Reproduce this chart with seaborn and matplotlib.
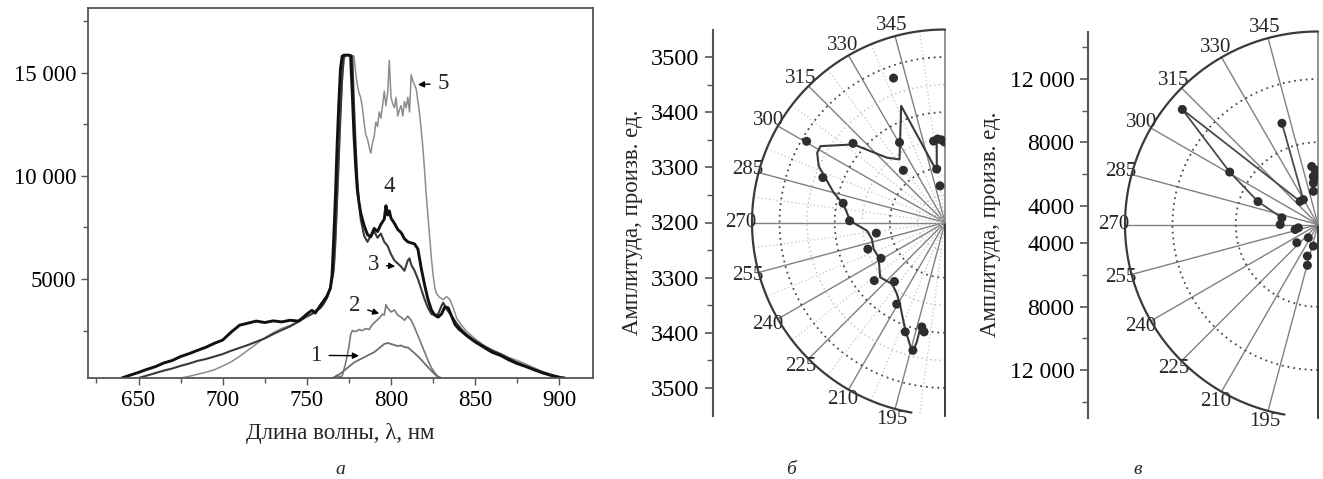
import numpy as np
import matplotlib
matplotlib.use("Agg")
import matplotlib.pyplot as plt
import seaborn as sns
from matplotlib.ticker import FixedLocator, FuncFormatter, MultipleLocator

# ---------------- spectra (wavelength nm, intensity a.u.) ----------------
spec1 = [(765, 200), (768, 300), (770, 420), (772, 550), (775, 750), (778, 950), (781, 1080),
         (784, 1200), (787, 1330), (790, 1450), (793, 1650), (796, 1850), (798, 1900), (800, 1850),
         (802, 1800), (804, 1750), (806, 1780), (808, 1700), (810, 1680), (812, 1550), (814, 1400),
         (816, 1250), (818, 1080), (820, 900), (822, 720), (824, 550), (826, 380), (828, 250), (830, 200)]

spec2 = [(766, 200), (768, 350), (769, 250), (771, 300), (773, 900), (775, 1700), (776, 2300),
         (777, 2500), (779, 2450), (781, 2550), (783, 2500), (785, 2600), (787, 2550), (789, 2800),
         (791, 2950), (793, 3100), (795, 3300), (796, 3250), (797, 3750), (798, 3600), (800, 3400),
         (802, 3500), (804, 3250), (806, 3150), (808, 3000), (810, 3200), (812, 3000), (814, 2650),
         (816, 2250), (818, 1850), (820, 1450), (822, 1050), (824, 700), (826, 450), (828, 270), (830, 200)]

spec3 = [(650, 200), (655, 320), (660, 440), (665, 560), (670, 660), (675, 790), (680, 900), (685, 1030),
         (690, 1120), (695, 1240), (700, 1360), (705, 1520), (710, 1660), (715, 1800), (720, 1960),
         (725, 2120), (730, 2330), (735, 2520), (740, 2700), (745, 2930), (750, 3180), (753, 3300),
         (755, 3450), (758, 3580), (760, 3800), (762, 4100), (764, 4600), (766, 5500), (767, 7000),
         (768, 9000), (769, 11000), (770, 13000), (771, 14800), (772, 15800), (774, 15850), (776, 15850),
         (777, 15800), (778, 13500), (779, 11500), (780, 9800), (781, 8700), (782, 7900), (784, 7100),
         (786, 6800), (788, 7100), (790, 7300), (792, 7000), (794, 7200), (796, 6800), (798, 6600),
         (800, 6200), (802, 5900), (804, 5750), (806, 5600), (808, 5400), (810, 5900), (811, 6000),
         (812, 5700), (814, 5400), (816, 5000), (818, 4500), (820, 4000), (822, 3600), (824, 3300),
         (826, 3250), (828, 3300), (830, 3700), (831, 3850), (833, 3550), (836, 3200), (839, 2850),
         (842, 2550), (845, 2300), (850, 2000), (855, 1750), (860, 1550), (865, 1350), (870, 1150),
         (875, 950), (880, 780), (885, 620), (890, 480), (895, 350), (900, 250), (902, 200)]

spec4 = [(640, 200), (645, 340), (650, 470), (655, 620), (660, 750), (665, 930), (670, 1050), (675, 1240),
         (680, 1380), (685, 1540), (690, 1690), (695, 1880), (700, 2040), (705, 2420), (710, 2760),
         (715, 2860), (720, 2960), (725, 2890), (730, 2970), (735, 2920), (740, 3000), (745, 2960),
         (748, 3150), (750, 3300), (753, 3480), (755, 3350), (758, 3720), (760, 3940), (762, 4180),
         (764, 4560), (765, 5200), (766, 7000), (767, 9000), (768, 11500), (769, 13500), (770, 15200),
         (771, 15800), (772, 15850), (774, 15850), (775, 15850), (776, 15800), (777, 14000), (778, 12000),
         (779, 10500), (780, 9300), (781, 8700), (782, 8200), (784, 7600), (786, 7150), (788, 7050),
         (790, 7450), (792, 7300), (794, 7650), (796, 7900), (797, 8550), (798, 8100), (799, 8300),
         (800, 7950), (802, 7700), (804, 7400), (806, 7250), (808, 6950), (810, 6800), (812, 6750),
         (814, 6700), (816, 6450), (818, 5500), (820, 4700), (822, 4000), (824, 3500), (826, 3250),
         (828, 3150), (830, 3300), (832, 3650), (834, 3600), (836, 3200), (838, 2800), (840, 2600),
         (845, 2250), (850, 1950), (855, 1700), (860, 1450), (865, 1300), (870, 1080), (875, 900),
         (880, 760), (885, 600), (890, 450), (895, 330), (900, 220), (903, 200)]

spec5 = [(675, 200), (680, 280), (685, 380), (690, 480), (695, 600), (700, 780), (705, 980), (710, 1250),
         (715, 1550), (720, 1850), (725, 2150), (730, 2400), (735, 2600), (740, 2750), (745, 2950),
         (750, 3300), (753, 3500), (755, 3350), (758, 3600), (760, 3800), (762, 4050), (764, 4500),
         (766, 5300), (767, 6500), (768, 8500), (769, 10500), (770, 12800), (771, 14500), (772, 15600),
         (773, 15850), (776, 15850), (778, 15800), (779, 15000), (780, 14400), (781, 14000), (782, 13800),
         (783, 13300), (784, 12600), (785, 12000), (786, 11800), (787, 11400), (788, 11100), (789, 11600),
         (790, 11900), (791, 12600), (792, 12400), (793, 13100), (794, 12800), (795, 13400), (796, 14100),
         (797, 13400), (798, 14000), (799, 15600), (800, 13800), (801, 13500), (802, 13300), (803, 13800),
         (804, 12900), (805, 13200), (806, 13400), (807, 12900), (808, 13600), (809, 13300), (810, 13800),
         (811, 13100), (812, 14900), (813, 14600), (814, 14400), (815, 14200), (816, 13600), (817, 13000),
         (818, 12200), (819, 11300), (820, 10200), (821, 9000), (822, 8000), (823, 7000), (824, 6000),
         (825, 5200), (826, 4600), (827, 4300), (829, 4100), (831, 4000), (833, 4150), (835, 4000),
         (837, 3600), (839, 3100), (842, 2750), (845, 2450), (850, 2100), (855, 1800), (860, 1550),
         (865, 1400), (870, 1200), (875, 1050), (880, 880), (885, 700), (890, 520), (895, 380),
         (900, 280), (905, 200)]

# curve number labels: (text, text position, arrow target or None)
curve_labels = [("1", (755.5, 1300), (781, 1280)),
                ("2", (778.5, 3700), (793, 3320)),
                ("3", (789.5, 5680), (802.5, 5620)),
                ("4", (799, 9475), None),
                ("5", (831, 14480), (816, 14420))]

# ---------------- polar panel б (angle deg, amplitude) ----------------
b_points = [(340.4, 3478), (300.4, 3491), (310.7, 3420), (330.4, 3367), (321.4, 3321),
            (352.0, 3349), (355.0, 3352), (357.5, 3350), (359.5, 3346), (351.1, 3298),
            (352.2, 3267), (290.2, 3436), (280.7, 3388), (271.0, 3373), (261.2, 3326),
            (251.0, 3348), (240.8, 3333), (230.6, 3366), (220.6, 3341), (210.6, 3372),
            (200.0, 3411), (194.1, 3439), (192.5, 3394), (190.8, 3402)]
b_path = [(354.3, 3351), (350.9, 3294), (339.4, 3426), (324.2, 3341), (318.1, 3358),
          (310.5, 3418), (301.5, 3465), (298.6, 3464), (294.1, 3451), (285.0, 3409),
          (280.2, 3387), (271.0, 3372), (263.9, 3342), (257.2, 3336), (249.6, 3338),
          (242.3, 3336), (229.8, 3354), (220.8, 3347), (214.0, 3356), (208.4, 3371),
          (200.6, 3406), (195.8, 3432), (193.9, 3439), (193.3, 3423), (193.2, 3398)]

# ---------------- polar panel в ----------------
v_points = [(353.8, 6490), (356.9, 6265), (354.4, 5850), (353.6, 5440), (352.0, 4915),
            (358.5, 5840), (329.5, 4624), (322.3, 4650), (280.5, 5121), (270.0, 5190),
            (257.7, 4280), (260.5, 4057), (229.3, 4567), (216.1, 3836), (192.2, 4196),
            (198.6, 4905), (194.6, 5465), (310.3, 14045), (340.4, 9592), (300.7, 9290),
            (290.9, 6858)]
v_path = [(340.4, 9592), (329.5, 4624), (322.3, 4650), (310.3, 14045), (300.7, 9290),
          (290.9, 6858), (280.5, 5121)]

theta_labels = [195, 210, 225, 240, 255, 270, 285, 300, 315, 330, 345]

# ---------------- style ----------------
sns.set_theme(style="ticks")
plt.rcParams["font.family"] = ["Liberation Serif", "DejaVu Serif"]
plt.rcParams["axes.unicode_minus"] = False

W, H = 1323, 479
fig = plt.figure(figsize=(W / 100, H / 100), dpi=100)
fig.patch.set_facecolor("white")


def rect(x0, y0, x1, y1):
    return [x0 / W, 1 - y1 / H, (x1 - x0) / W, (y1 - y0) / H]


def spaced(v):
    v = int(round(v))
    return f"{v:,}".replace(",", " ") if abs(v) >= 10000 else str(v)


FS = 16.5
SPINE = "#555555"

# ================= panel а: emission spectra =================
ax = fig.add_axes(rect(88, 8.3, 593, 377.7))
styles = [(spec5, "#8c8c8c", 1.1), (spec3, "#3a3a3a", 1.5), (spec4, "#111111", 2.1),
          (spec2, "#7a7a7a", 1.2), (spec1, "#6e6e6e", 1.3)]
for spec, col, lw in styles:
    wl, val = zip(*spec)
    sns.lineplot(x=np.array(wl), y=np.array(val), ax=ax, color=col, lw=lw,
                 estimator=None, sort=False)

ax.set_xlim(620, 920)
ax.set_ylim(216, 18120)
ax.xaxis.set_major_locator(MultipleLocator(50))
ax.xaxis.set_minor_locator(MultipleLocator(25))
ax.yaxis.set_major_locator(FixedLocator([5000, 10000, 15000]))
ax.yaxis.set_minor_locator(FixedLocator([2500, 7500, 12500, 17500]))
ax.yaxis.set_major_formatter(FuncFormatter(lambda v, p: spaced(v)))
ax.tick_params(axis="both", which="both", direction="out", colors=SPINE,
               labelcolor="black", labelsize=FS, right=False, top=False)
ax.tick_params(which="major", length=5, width=1.0)
ax.tick_params(which="minor", length=3.5, width=1.0)
for s in ax.spines.values():
    s.set_color(SPINE)
    s.set_linewidth(1.3)
ax.set_xlabel("Длина волны, λ, нм", fontsize=FS, labelpad=9)
ax.set_ylabel("")

for txt, pos, tgt in curve_labels:
    if tgt is None:
        ax.text(*pos, txt, fontsize=FS, ha="center", va="center")
    else:
        ax.annotate(txt, xy=tgt, xytext=pos, fontsize=FS, ha="center", va="center",
                    arrowprops=dict(arrowstyle="-|>", color="black", lw=1.0,
                                    mutation_scale=9, shrinkA=3, shrinkB=0))


# ================= polar panels =================
def polar_panel(center_x, center_y, R, axis_x, rmin, rmax, rgrid_major, rgrid_minor,
                ticks_major, ticks_minor, fmt, minor_theta, lab_fs):
    # the half-disc wedge is centred inside a square box of side 2R
    pax = fig.add_axes(rect(center_x - 1.5 * R, center_y - R, center_x + 0.5 * R, center_y + R),
                       projection="polar")
    pax.set_theta_zero_location("N")
    pax.set_theta_direction(-1)
    pax.set_thetamin(180)
    pax.set_thetamax(360)
    pax.set_xticks(np.radians(theta_labels))
    pax.set_xticklabels([str(t) for t in theta_labels])
    if minor_theta:
        pax.set_xticks(np.radians(np.arange(187.5, 360, 15)), minor=True)
    pax.set_yticks(rgrid_major)
    if rgrid_minor:
        pax.set_yticks(rgrid_minor, minor=True)
    pax.set_yticklabels([])
    pax.tick_params(axis="both", which="both", length=0)
    pax.tick_params(axis="x", labelsize=15, pad=1)
    pax.grid(False)
    pax.xaxis.grid(True, which="major", color="#808080", lw=1.0, ls="-")
    if minor_theta:
        pax.xaxis.grid(True, which="minor", color="#c4c4c4", lw=0.9, ls=(0, (1, 2)))
    pax.yaxis.grid(True, which="major", color="#4a4a4a", lw=1.3, ls=(0, (1, 2.2)))
    if rgrid_minor:
        pax.yaxis.grid(True, which="minor", color="#bdbdbd", lw=1.0, ls=(0, (1, 2.2)))
    pax.spines["polar"].set_visible(False)
    pax.spines["start"].set_visible(False)
    pax.spines["end"].set_color("#808080")
    pax.spines["end"].set_linewidth(1.2)
    pax.patch.set_visible(False)
    arc = np.radians(np.linspace(190, 360, 200))
    pax.plot(arc, np.full(arc.size, rmax), color="#3a3a3a", lw=1.6, clip_on=False, zorder=4)

    # vertical amplitude axis at the left
    lax = fig.add_axes(rect(axis_x, center_y - R, axis_x + 1, center_y + R))
    span = rmax - rmin
    lax.set_ylim(-span, span)
    lax.set_xlim(0, 1)
    lax.patch.set_visible(False)
    for s in ["top", "right", "bottom"]:
        lax.spines[s].set_visible(False)
    lax.spines["left"].set_color(SPINE)
    lax.spines["left"].set_linewidth(1.5)
    lax.set_xticks([])
    yt = sorted([v - rmin for v in ticks_major] + [rmin - v for v in ticks_major if v != rmin])
    ym = sorted([v - rmin for v in ticks_minor] + [rmin - v for v in ticks_minor])
    lax.yaxis.set_major_locator(FixedLocator(yt))
    lax.yaxis.set_minor_locator(FixedLocator(ym))
    lax.yaxis.set_major_formatter(FuncFormatter(lambda v, p: fmt(rmin + abs(v))))
    lax.tick_params(axis="y", which="both", direction="out", colors=SPINE,
                    labelcolor="black", labelsize=lab_fs)
    lax.tick_params(axis="y", which="major", length=6, width=1.2)
    lax.tick_params(axis="y", which="minor", length=4, width=1.0)
    lax.set_ylabel("Амплитуда, произв. ед.", fontsize=FS, labelpad=6)
    return pax


# ---- б ----
pb = polar_panel(945, 222.5, 193, 712.7, 3200, 3550,
                 [3300, 3400, 3500], [3250, 3350, 3450],
                 [3200, 3300, 3400, 3500], [3250, 3350, 3450], spaced, True, 17.5)
th, rr = zip(*b_path)
sns.lineplot(x=np.radians(th), y=np.array(rr), ax=pb, color="#3a3a3a", lw=1.5,
             estimator=None, sort=False)
th, rr = zip(*b_points)
sns.scatterplot(x=np.radians(th), y=np.array(rr), ax=pb, color="#2e2e2e", s=42,
                edgecolor="none", zorder=5)
pb.set_ylim(3200, 3550)
pb.set_xlabel("")
pb.set_ylabel("")

# ---- в ----
pv = polar_panel(1318, 224.5, 193, 1087.7, 2800, 15000,
                 [8000, 12000], [],
                 [4000, 8000, 12000], [6000, 10000, 14000], spaced, False, 17)
th, rr = zip(*v_path)
sns.lineplot(x=np.radians(th), y=np.array(rr), ax=pv, color="#4a4a4a", lw=1.3,
             estimator=None, sort=False)
th, rr = zip(*v_points)
sns.scatterplot(x=np.radians(th), y=np.array(rr), ax=pv, color="#2e2e2e", s=42,
                edgecolor="none", zorder=5)
pv.set_ylim(2800, 15000)
pv.set_xlabel("")
pv.set_ylabel("")

# panel letters
for letter, x in [("а", 340), ("б", 791), ("в", 1138)]:
    fig.text(x / W, 1 - 470 / H, letter, fontsize=14, style="italic",
             ha="center", va="center")

fig.savefig("out.png", dpi=100, facecolor="white")
